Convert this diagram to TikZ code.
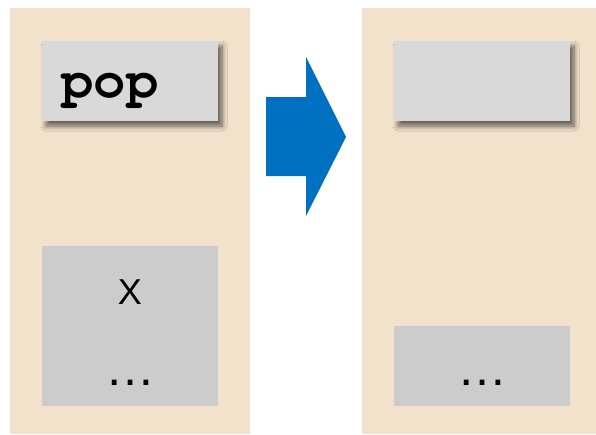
\documentclass[tikz,border=0pt]{standalone}
\usepackage{fontspec}
\setmainfont{Liberation Sans}
\newfontfamily\cursorfont{texgyrecursor}[Extension=.otf, UprightFont=*-regular, BoldFont=*-bold]
\usetikzlibrary{shadows.blur}

\definecolor{panelbg}{HTML}{F2E2CC}
\definecolor{cellTop}{HTML}{D9D9D9}
\definecolor{cellBody}{HTML}{CCCCCC}
\definecolor{arrowblue}{HTML}{0070C0}

\tikzset{
  panel/.style={fill=panelbg, draw=none},
  topcell/.style={fill=cellTop, draw=none, inner sep=0pt, outer sep=0pt,
    minimum width=176pt, minimum height=80pt,
    blur shadow={shadow xshift=4pt, shadow yshift=-5pt, shadow blur radius=5pt,
      shadow blur steps=8, shadow opacity=60}},
  bodycell/.style={fill=cellBody, draw=none, inner sep=0pt, outer sep=0pt, minimum width=176pt},
  celltext/.style={inner sep=0pt, font=\fontsize{36pt}{36pt}\selectfont},
  dotstext/.style={inner sep=0pt, font=\fontsize{50pt}{50pt}\selectfont},
  codetext/.style={inner sep=0pt, font=\cursorfont\bfseries\fontsize{54pt}{54pt}\selectfont},
}

\begin{document}
\begin{tikzpicture}[x=1pt, y=-1pt]
  \useasboundingbox (0,0) rectangle (596,434);
  \fill[white] (0,0) rectangle (596,434);

  % the two stack panels
  \path[panel] (10,8) rectangle (250,434);
  \path[panel] (362,8) rectangle (596,434);

  % left stack: instruction cell and body
  \node[topcell] (popcell) at (130,81) {};
  \node[codetext, anchor=base west] (poptext) at (61,97) {pop};
  \node[bodycell, minimum height=160pt] (leftbody) at (130,326) {};
  \node[celltext, anchor=base] (xval) at (130,304) {X};
  \node[dotstext, anchor=base] (leftdots) at (130,385) {…};

  % transition arrow
  \fill[arrowblue] (266,97) -- (306,97) -- (306,57) -- (346,137)
    -- (306,216) -- (306,176) -- (266,176) -- cycle;

  % right stack: emptied cell and remaining body
  \node[topcell] (emptycell) at (482,81) {};
  \node[bodycell, minimum height=80pt] (rightbody) at (482,366) {};
  \node[dotstext, anchor=base] (rightdots) at (482,385) {…};
\end{tikzpicture}
\end{document}
